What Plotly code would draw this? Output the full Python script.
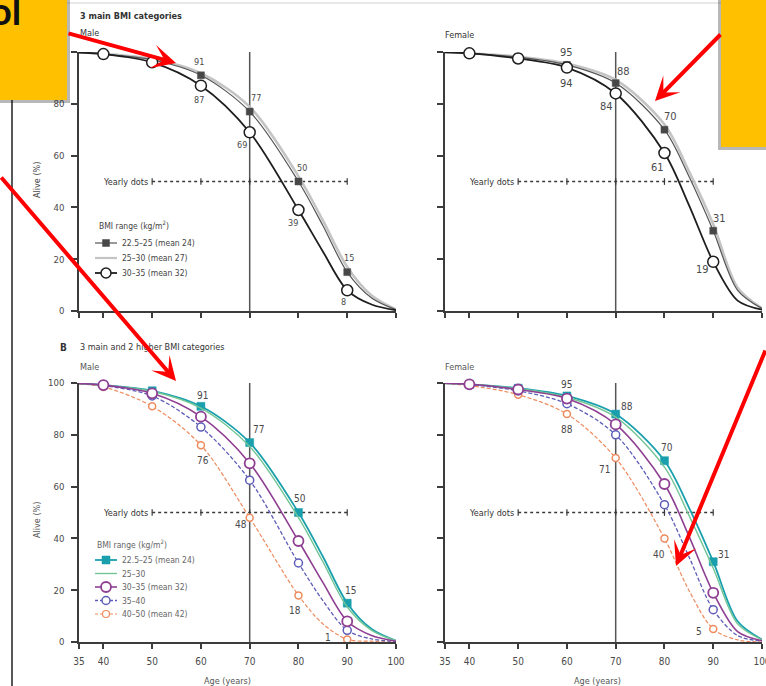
import plotly.graph_objects as go

W, H = 766, 686


def fx(px):
    return px / W


def fy(py):
    return 1 - py / H


FONT = "Liberation Sans Narrow, DejaVu Sans Condensed, Arial Narrow, sans-serif"

# ---------------------------------------------------------------- data
MARK_AGES = [40, 50, 60, 70, 80, 90]
TAIL_AGES = [35, 85, 95, 100]          # extra points shaping the curve ends
TICK_AGES = [35, 40, 50, 60, 70, 80, 90, 100]
TICK_ALIVE = [0, 20, 40, 60, 80, 100]
YEARLY_AGES = [50, 60, 70, 80, 90]
YEARLY_LEVEL = 50

# A: three main BMI categories, male
A_M_225 = [99.2, 97, 91, 77, 50, 15]
A_M_225_TAIL = [99.8, 33, 5, 0.5]
A_M_25 = [99.3, 97.3, 91.8, 78.8, 52, 17]
A_M_25_TAIL = [99.8, 35, 6, 0.6]
A_M_30 = [99.2, 96, 87, 69, 39, 8]
A_M_30_TAIL = [99.8, 23, 2.5, 0.3]

# A: three main BMI categories, female
A_F_225 = [99.5, 98, 95, 88, 70, 31]
A_F_225_TAIL = [99.9, 52, 8, 1]
A_F_25 = [99.5, 98.2, 95.5, 89.2, 72, 33.5]
A_F_25_TAIL = [99.9, 54, 9, 1]
A_F_30 = [99.5, 97.5, 94, 84, 61, 19]
A_F_30_TAIL = [99.9, 41, 4, 0.5]

# B: three main and two higher BMI categories, male
B_M_225 = [99.2, 97, 91, 77, 50, 15]
B_M_225_TAIL = [99.8, 33, 5, 0.5]
B_M_25 = [99.2, 96.8, 90.3, 75.5, 48, 13.5]
B_M_25_TAIL = [99.8, 31, 4.5, 0.5]
B_M_30 = [99.2, 96, 87, 69, 39, 8]
B_M_30_TAIL = [99.8, 23, 2.5, 0.3]
B_M_35 = [99, 95, 83, 62.5, 30.5, 4.5]
B_M_35_TAIL = [99.8, 16, 1.2, 0.2]
B_M_40 = [98.5, 91, 76, 48, 18, 1]
B_M_40_TAIL = [99.7, 7, 0.3, 0]

# B: three main and two higher BMI categories, female
B_F_225 = [99.5, 98, 95, 88, 70, 31]
B_F_225_TAIL = [99.9, 52, 8, 1]
B_F_25 = [99.5, 97.8, 94.5, 86.8, 67.5, 28.5]
B_F_25_TAIL = [99.9, 49, 7, 0.9]
B_F_30 = [99.5, 97.5, 94, 84, 61, 19]
B_F_30_TAIL = [99.9, 41, 4, 0.5]
B_F_35 = [99.4, 97, 92, 80, 53, 12.5]
B_F_35_TAIL = [99.9, 33, 2.5, 0.3]
B_F_40 = [99, 95.5, 88, 71, 40, 5]
B_F_40_TAIL = [99.8, 20, 0.8, 0]

# ---------------------------------------------------------------- styles
GREY_DARK = "#555555"
GREY_SQ = "#474747"
GREY_LIGHT = "#c4c4c4"
BLACK = "#1e1e1e"
TEAL = "#1a9fad"
GREEN = "#74c596"
PURPLE = "#8e3f92"
BLUE = "#5d5db8"
ORANGE = "#ee8b5e"
TXT = "#4a4a4a"
AXIS = "#3c3c3c"

X_LEFT = [fx(79), fx(396)]
X_RIGHT = [fx(445), fx(762)]
Y_TOP = [fy(311), fy(52)]
Y_BOT = [fy(642), fy(383)]


def curve(marks, tail):
    pts = sorted(zip(MARK_AGES + TAIL_AGES, marks + tail))
    return [a for a, _ in pts], [v for _, v in pts]


fig = go.Figure()

PANELS = {"TL": ("x", "y"), "TR": ("x2", "y2"), "BL": ("x3", "y3"), "BR": ("x4", "y4")}


def add_series(panel, marks, tail, color, width, dash="solid", symbol=None,
               msize=0, mfill="white", mline=1.5):
    xa, ya = PANELS[panel]
    ages, vals = curve(marks, tail)
    fig.add_trace(go.Scatter(
        x=ages, y=vals, mode="lines", xaxis=xa, yaxis=ya, showlegend=False,
        line=dict(color=color, width=width, dash=dash, shape="spline", smoothing=0.9),
        hoverinfo="skip"))
    if symbol:
        fig.add_trace(go.Scatter(
            x=MARK_AGES, y=marks, mode="markers", xaxis=xa, yaxis=ya, showlegend=False,
            cliponaxis=False,
            marker=dict(symbol=symbol, size=msize, color=mfill,
                        line=dict(color=color, width=mline)),
            hoverinfo="skip"))


# panel A male
add_series("TL", A_M_25, A_M_25_TAIL, GREY_LIGHT, 2.6)
add_series("TL", A_M_225, A_M_225_TAIL, GREY_DARK, 1.2, symbol="square", msize=7,
           mfill=GREY_SQ, mline=0.5)
add_series("TL", A_M_30, A_M_30_TAIL, BLACK, 1.8, symbol="circle", msize=11)
# panel A female
add_series("TR", A_F_25, A_F_25_TAIL, GREY_LIGHT, 2.6)
add_series("TR", A_F_225, A_F_225_TAIL, GREY_DARK, 1.2, symbol="square", msize=7,
           mfill=GREY_SQ, mline=0.5)
add_series("TR", A_F_30, A_F_30_TAIL, BLACK, 1.8, symbol="circle", msize=11)
# panel B male
add_series("BL", B_M_225, B_M_225_TAIL, TEAL, 1.8, symbol="square", msize=8,
           mfill=TEAL, mline=0.5)
add_series("BL", B_M_25, B_M_25_TAIL, GREEN, 1.4)
add_series("BL", B_M_40, B_M_40_TAIL, ORANGE, 1.2, dash="4px,2px", symbol="circle", msize=7)
add_series("BL", B_M_35, B_M_35_TAIL, BLUE, 1.3, dash="4px,2px", symbol="circle", msize=8)
add_series("BL", B_M_30, B_M_30_TAIL, PURPLE, 1.6, symbol="circle", msize=10, mline=1.8)
# panel B female
add_series("BR", B_F_225, B_F_225_TAIL, TEAL, 1.8, symbol="square", msize=8,
           mfill=TEAL, mline=0.5)
add_series("BR", B_F_25, B_F_25_TAIL, GREEN, 1.4)
add_series("BR", B_F_40, B_F_40_TAIL, ORANGE, 1.2, dash="4px,2px", symbol="circle", msize=7)
add_series("BR", B_F_35, B_F_35_TAIL, BLUE, 1.3, dash="4px,2px", symbol="circle", msize=8)
add_series("BR", B_F_30, B_F_30_TAIL, PURPLE, 1.6, symbol="circle", msize=10, mline=1.8)

# ---------------------------------------------------------------- axes
def xaxis(domain, labels, anchor):
    return dict(domain=domain, range=[35, 100], anchor=anchor, showgrid=False,
                zeroline=False, showline=True, linecolor=AXIS, linewidth=1.5,
                ticks="outside", ticklen=5, tickwidth=1.5, tickcolor=AXIS,
                tickvals=TICK_AGES, showticklabels=labels, ticklabelstandoff=4,
                ticklabeloverflow="allow", automargin=False,
                tickfont=dict(family=FONT, size=10, color=TXT))


def yaxis(domain, labels, anchor):
    return dict(domain=domain, range=[0, 100], anchor=anchor, showgrid=False,
                zeroline=False, showline=True, linecolor=AXIS, linewidth=1.5,
                ticks="outside", ticklen=6, tickwidth=1.5, tickcolor=AXIS,
                tickvals=TICK_ALIVE, showticklabels=labels, ticklabelstandoff=5,
                ticklabeloverflow="allow", automargin=False,
                tickfont=dict(family=FONT, size=9.5, color=TXT))


fig.update_layout(
    width=W, height=H, margin=dict(l=0, r=0, t=0, b=0, pad=0, autoexpand=False),
    paper_bgcolor="white", plot_bgcolor="white", showlegend=False,
    xaxis=xaxis(X_LEFT, False, "y"), yaxis=yaxis(Y_TOP, True, "x"),
    xaxis2=xaxis(X_RIGHT, False, "y2"), yaxis2=yaxis(Y_TOP, False, "x2"),
    xaxis3=xaxis(X_LEFT, True, "y3"), yaxis3=yaxis(Y_BOT, True, "x3"),
    xaxis4=xaxis(X_RIGHT, True, "y4"), yaxis4=yaxis(Y_BOT, False, "x4"),
)

shapes = []
annotations = []


def text(x, y, s, size=9, color=TXT, anchor="left", bold=False, angle=0, family=FONT):
    annotations.append(dict(
        x=fx(x), y=fy(y), xref="paper", yref="paper", text=s, showarrow=False,
        xanchor=anchor, yanchor="middle", textangle=angle,
        font=dict(family=family, size=size, color=color,
                  weight="bold" if bold else "normal")))


# age-70 reference lines and yearly-dots bars
for xa, ya in PANELS.values():
    shapes.append(dict(type="line", xref=xa, yref=ya, x0=70, x1=70, y0=0, y1=100.4,
                       line=dict(color="#555555", width=1.5), layer="below"))
    shapes.append(dict(type="line", xref=xa, yref=ya, x0=YEARLY_AGES[0], x1=YEARLY_AGES[-1],
                       y0=YEARLY_LEVEL, y1=YEARLY_LEVEL,
                       line=dict(color="#3a3a3a", width=1.5, dash="dot"), layer="below"))
    for a in YEARLY_AGES:
        shapes.append(dict(type="line", xref=xa, yref=ya, x0=a, x1=a,
                           y0=YEARLY_LEVEL - 1.3, y1=YEARLY_LEVEL + 1.3,
                           line=dict(color="#3a3a3a", width=1.2), layer="below"))
    annotations.append(dict(x=YEARLY_AGES[0], y=YEARLY_LEVEL, xref=xa, yref=ya,
                            text="Yearly dots", showarrow=False, xanchor="right",
                            yanchor="middle", xshift=-2,
                            font=dict(family=FONT, size=9, color="#333333")))

# value labels next to markers (offsets in pixels, +y downwards)
LABELS = [
    ("TL", A_M_225, [(-2, -13), (6, -14), (4, -14), (2, -14)], 9),
    ("TL", A_M_30, [(-2, 14), (-8, 13), (-5, 13), (-4, 12)], 9),
    ("TR", A_F_225, [(0, -12), (8, -12), (6, -13), (6, -12)], 11),
    ("TR", A_F_30, [(0, 16), (-9, 13), (-7, 14), (-11, 8)], 11),
    ("BL", B_M_225, [(2, -11), (9, -13), (2, -14), (3, -13)], 10),
    ("BL", B_M_40, [(2, 15), (-9, 7), (-3, 15), (-19, -2)], 10),
    ("BR", B_F_225, [(0, -11), (11, -8), (3, -13), (10, -7)], 10),
    ("BR", B_F_40, [(0, 15), (-11, 11), (-5, 16), (-14, 2)], 10),
]
for panel, vals, offs, size in LABELS:
    xa, ya = PANELS[panel]
    for i, (dx, dy) in zip(range(2, 6), offs):
        annotations.append(dict(x=MARK_AGES[i], y=vals[i], xref=xa, yref=ya,
                                text=f"{vals[i]:g}", showarrow=False,
                                xshift=dx, yshift=-dy,
                                font=dict(family=FONT, size=size, color=TXT)))

# panel headings
text(78, 16, "3 main BMI categories", size=9, color="#333333", bold=True)
text(78, 33, "Male", size=9, color="#333333")
text(443, 35, "Female", size=9, color="#333333")
text(58, 347, "B", size=10, color="#333333", bold=True)
text(78, 347, "3 main and 2 higher BMI categories", size=9, color="#333333")
text(78, 367, "Male", size=9, color="#555555")
text(443, 367, "Female", size=9, color="#555555")
text(37, 180, "Alive (%)", size=9, color="#444444", anchor="center", angle=-90)
text(37, 520, "Alive (%)", size=9, color="#555555", anchor="center", angle=-90)
text(227, 681, "Age (years)", size=9, color="#555555", anchor="center")
text(597, 681, "Age (years)", size=9, color="#555555", anchor="center")


# legends
def leg_line(y, color, width, dash="solid"):
    shapes.append(dict(type="line", xref="paper", yref="paper", x0=fx(95), x1=fx(117),
                       y0=fy(y), y1=fy(y), line=dict(color=color, width=width, dash=dash)))


def leg_square(y, color, r=3.5):
    shapes.append(dict(type="rect", xref="paper", yref="paper", x0=fx(106 - r), x1=fx(106 + r),
                       y0=fy(y + r), y1=fy(y - r), fillcolor=color,
                       line=dict(color=color, width=0.5)))


def leg_circle(y, color, r, lw=1.5):
    shapes.append(dict(type="circle", xref="paper", yref="paper", x0=fx(106 - r), x1=fx(106 + r),
                       y0=fy(y + r), y1=fy(y - r), fillcolor="white",
                       line=dict(color=color, width=lw)))


text(97, 225, "BMI range (kg/m<sup>2</sup>)", size=8.5, color="#444444")
LEG_A = [("22.5–25 (mean 24)", 243), ("25–30 (mean 27)", 258), ("30–35 (mean 32)", 273)]
leg_line(LEG_A[0][1], GREY_DARK, 1.2)
leg_square(LEG_A[0][1], GREY_SQ)
leg_line(LEG_A[1][1], GREY_LIGHT, 2.2)
leg_line(LEG_A[2][1], BLACK, 1.8)
leg_circle(LEG_A[2][1], BLACK, 5)
for s, y in LEG_A:
    text(120, y, s, size=8.5, color="#444444")

text(95, 544, "BMI range (kg/m<sup>2</sup>)", size=8.5, color="#666666")
LEG_B = [("22.5–25 (mean 24)", 560), ("25–30", 573.5), ("30–35 (mean 32)", 587),
         ("35–40", 600.5), ("40–50 (mean 42)", 614)]
leg_line(LEG_B[0][1], TEAL, 1.8)
leg_square(LEG_B[0][1], TEAL, 4)
leg_line(LEG_B[1][1], GREEN, 1.4)
leg_line(LEG_B[2][1], PURPLE, 1.6)
leg_circle(LEG_B[2][1], PURPLE, 5, 1.8)
leg_line(LEG_B[3][1], BLUE, 1.3, "3px,2px")
leg_circle(LEG_B[3][1], BLUE, 4)
leg_line(LEG_B[4][1], ORANGE, 1.2, "3px,2px")
leg_circle(LEG_B[4][1], ORANGE, 3.5, 1.2)
for s, y in LEG_B:
    text(120, y, s, size=8.5, color="#666666")

# page frame lines
shapes.append(dict(type="line", xref="paper", yref="paper", x0=fx(0), x1=fx(W),
                   y0=fy(3), y1=fy(3), line=dict(color="#e8e8e8", width=2)))
shapes.append(dict(type="line", xref="paper", yref="paper", x0=fx(12), x1=fx(12),
                   y0=fy(0), y1=fy(H), line=dict(color="#222222", width=1.5)))

# callout boxes with drop shadows
YELLOW = "#ffc000"
shapes.append(dict(type="rect", xref="paper", yref="paper", x0=fx(0), x1=fx(70),
                   y0=fy(103), y1=fy(0), fillcolor="rgba(0,0,0,0.28)", line_width=0,
                   layer="above"))
shapes.append(dict(type="rect", xref="paper", yref="paper", x0=fx(0), x1=fx(67),
                   y0=fy(100), y1=fy(0), fillcolor=YELLOW, line_width=0, layer="above"))
shapes.append(dict(type="rect", xref="paper", yref="paper", x0=fx(718), x1=fx(W),
                   y0=fy(150), y1=fy(0), fillcolor="rgba(0,0,0,0.28)", line_width=0,
                   layer="above"))
shapes.append(dict(type="rect", xref="paper", yref="paper", x0=fx(721), x1=fx(W),
                   y0=fy(147), y1=fy(0), fillcolor=YELLOW, line_width=0, layer="above"))
text(23, 10, "ol", size=38, color="#111111", anchor="right", bold=True, family="Lato, sans-serif")

# red callout arrows (tip, tail) in pixels
ARROWS = [((176, 63), (67, 33)), ((176, 381), (-3, 176)),
          ((655, 101), (722, 33)), ((676, 566), (771, 349))]
for (tx, ty), (sx, sy) in ARROWS:
    annotations.append(dict(x=fx(tx), y=fy(ty), xref="paper", yref="paper", text="",
                            showarrow=True, ax=sx - tx, ay=sy - ty, arrowhead=3,
                            arrowsize=1, arrowwidth=4, arrowcolor="#ff0000", standoff=0))

fig.update_layout(shapes=shapes, annotations=annotations)
fig.write_html("out.html")
